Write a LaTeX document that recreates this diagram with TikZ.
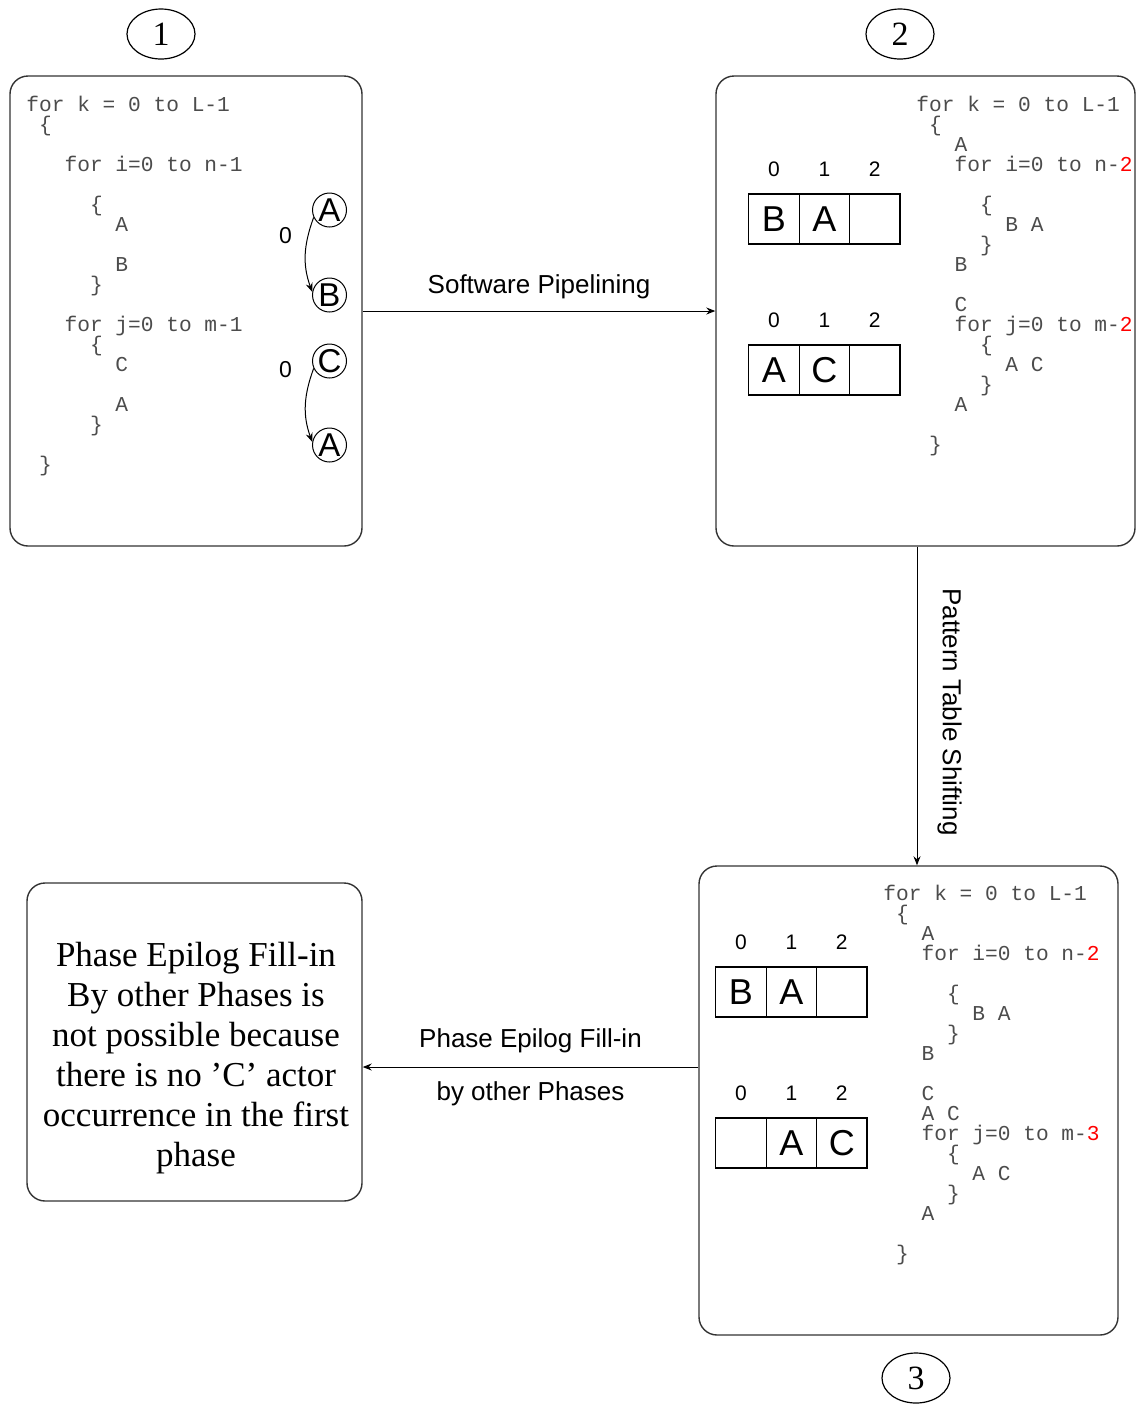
\documentclass[tikz,border=0pt]{standalone}
\usepackage{fontspec}
\setmainfont{Liberation Serif}
\setsansfont{Liberation Sans}
\setmonofont{Liberation Mono}
\usetikzlibrary{arrows.meta, positioning, shapes.geometric}
\setlength{\lineskiplimit}{-10pt}

\begin{document}
\begin{tikzpicture}[x=0.5pt, y=-0.5pt,
  phasebox/.style={draw=black!80, line width=0.7pt, rounded corners=9pt, inner sep=0pt},
  phasenum/.style={draw, ellipse, line width=0.6pt, minimum width=34pt, minimum height=25pt, inner sep=0pt, font=\fontsize{17}{17}\selectfont},
  code/.style={anchor=north west, inner sep=0pt, align=left, text=black!70, font=\ttfamily\fontsize{10.6}{10}\selectfont},
  cell/.style={draw, line width=0.6pt, minimum width=25.2pt, minimum height=25pt, inner sep=0pt, outer sep=0pt, font=\sffamily\fontsize{18}{18}\selectfont},
  idx/.style={inner sep=0pt, label distance=8.5pt, font=\sffamily\fontsize{10.5}{10.5}\selectfont},
  actor/.style={draw, circle, line width=0.5pt, minimum size=17pt, inner sep=0pt, font=\sffamily\fontsize{16.5}{16.5}\selectfont},
  zero/.style={inner sep=0pt, font=\sffamily\fontsize{11.5}{11.5}\selectfont},
  lbl/.style={inner sep=0pt, font=\sffamily\fontsize{13}{13}\selectfont},
  flow/.style={-{Stealth[length=4.5pt, width=3.5pt]}, line width=0.5pt}]
    \useasboundingbox (0,0) rectangle (1136,1405);

    % Phase 1
    \node[phasenum] (n1) at (161,34) {1};
    \node[phasebox, minimum width=176pt, minimum height=235pt] (box1) at (186,311) {};
    \node[code] (code1) at (26,96) {for k = 0 to L-1\\
      \hphantom{0}\{\\[10pt]
      \hphantom{000}for i=0 to n-1\\[10pt]
      \hphantom{00000}\{\\
      \hphantom{0000000}A\\[10pt]
      \hphantom{0000000}B\\
      \hphantom{00000}\}\\[10pt]
      \hphantom{000}for j=0 to m-1\\
      \hphantom{00000}\{\\
      \hphantom{0000000}C\\[10pt]
      \hphantom{0000000}A\\
      \hphantom{00000}\}\\[10pt]
      \hphantom{0}\}};
    \node[actor] (actA1) at (329.5,210) {A};
    \node[actor] (actB) at (329.5,295) {B};
    \node[actor] (actC) at (329.5,361) {C};
    \node[actor] (actA2) at (329.5,445) {A};
    \draw[flow] (actA1.205) to[out=250, in=110] (actB.170);
    \draw[flow] (actC.205) to[out=250, in=110] (actA2.170);
    \node[zero] (z1) at (285.5,236) {0};
    \node[zero] (z2) at (285.5,370) {0};

    % Phase 2
    \node[phasenum] (n2) at (900,34) {2};
    \node[phasebox, minimum width=209.5pt, minimum height=235pt] (box2) at (925.5,311) {};
    \node[code] (code2) at (916,96) {for k = 0 to L-1\\
      \hphantom{0}\{\\
      \hphantom{000}A\\
      \hphantom{000}for i=0 to n-\textcolor{red}{2}\\[10pt]
      \hphantom{00000}\{\\
      \hphantom{0000000}B A\\
      \hphantom{00000}\}\\
      \hphantom{000}B\\[10pt]
      \hphantom{000}C\\
      \hphantom{000}for j=0 to m-\textcolor{red}{2}\\
      \hphantom{00000}\{\\
      \hphantom{0000000}A C\\
      \hphantom{00000}\}\\
      \hphantom{000}A\\[10pt]
      \hphantom{0}\}};
    \node[cell, label={[idx]above:0}] (pat1a) at (774,219) {B};
    \node[cell, right=0pt of pat1a, label={[idx]above:1}] (pat1b) {A};
    \node[cell, right=0pt of pat1b, label={[idx]above:2}] (pat1c) {};
    \node[cell, label={[idx]above:0}] (pat2a) at (774,370) {A};
    \node[cell, right=0pt of pat2a, label={[idx]above:1}] (pat2b) {C};
    \node[cell, right=0pt of pat2b, label={[idx]above:2}] (pat2c) {};

    % Phase 3
    \node[phasebox, minimum width=209.5pt, minimum height=234.5pt] (box3) at (908.5,1100.5) {};
    \node[phasenum] (n3) at (916,1378) {3};
    \node[code] (code3) at (883,885) {for k = 0 to L-1\\
      \hphantom{0}\{\\
      \hphantom{000}A\\
      \hphantom{000}for i=0 to n-\textcolor{red}{2}\\[10pt]
      \hphantom{00000}\{\\
      \hphantom{0000000}B A\\
      \hphantom{00000}\}\\
      \hphantom{000}B\\[10pt]
      \hphantom{000}C\\
      \hphantom{000}A C\\
      \hphantom{000}for j=0 to m-\textcolor{red}{3}\\
      \hphantom{00000}\{\\
      \hphantom{0000000}A C\\
      \hphantom{00000}\}\\
      \hphantom{000}A\\[10pt]
      \hphantom{0}\}};
    \node[cell, label={[idx]above:0}] (pat3a) at (741,992) {B};
    \node[cell, right=0pt of pat3a, label={[idx]above:1}] (pat3b) {A};
    \node[cell, right=0pt of pat3b, label={[idx]above:2}] (pat3c) {};
    \node[cell, label={[idx]above:0}] (pat4a) at (741,1143) {};
    \node[cell, right=0pt of pat4a, label={[idx]above:1}] (pat4b) {A};
    \node[cell, right=0pt of pat4b, label={[idx]above:2}] (pat4c) {C};

    % Result
    \node[phasebox, minimum width=167.5pt, minimum height=159pt] (box4) at (194.5,1042) {};
    \node[align=center, inner sep=0pt, font=\fontsize{17.5}{20}\selectfont] (note) at (196,1058) {Phase Epilog Fill-in\\By other Phases is\\not possible because\\there is no 'C' actor\\occurrence in the first\\phase};

    % Transformations
    \draw[flow] (box1.east) -- (box2.west) node[lbl, midway, above=6pt] (swp) {Software Pipelining};
    \draw[flow] ([xshift=-4.25pt]box2.south) -- ([xshift=4.25pt]box3.north);
    \node[lbl, rotate=-90, anchor=south] (pts) at (937,712) {Pattern Table Shifting};
    \draw[flow] ([yshift=16.75pt]box3.west) -- ([yshift=-12.5pt]box4.east)
      node[lbl, midway, above=7pt] (pef) {Phase Epilog Fill-in}
      node[lbl, midway, below=7pt] (bop) {by other Phases};
\end{tikzpicture}
\end{document}
